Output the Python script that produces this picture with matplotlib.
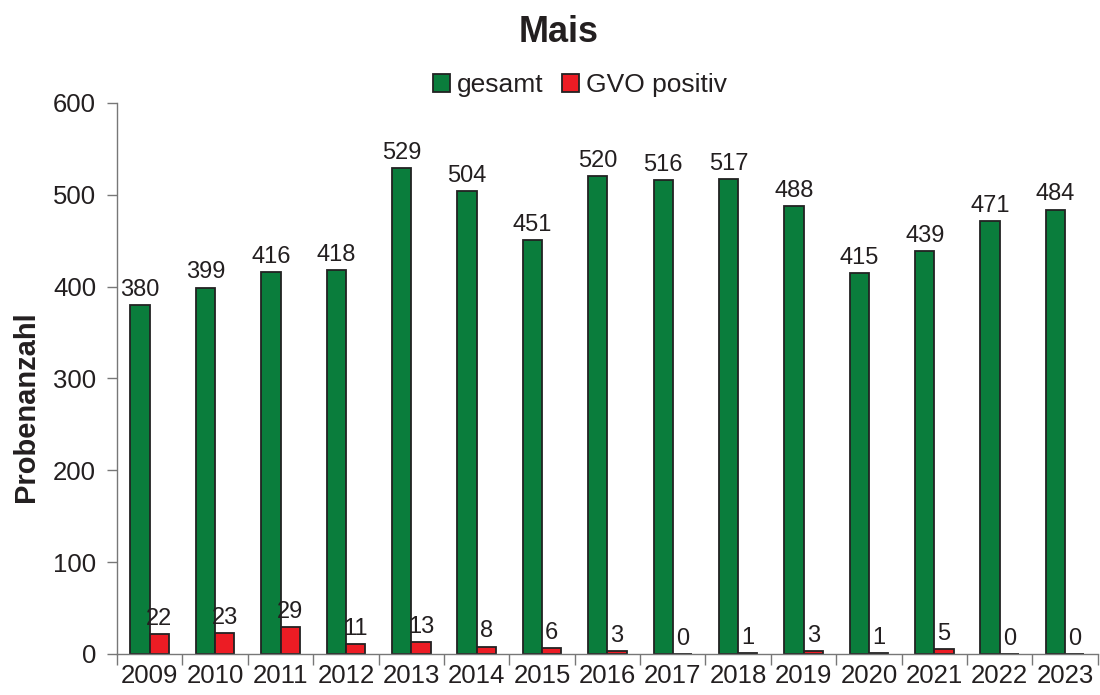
import numpy as np
import matplotlib.pyplot as plt
from matplotlib.transforms import ScaledTranslation

plt.rcParams['font.family'] = ['Liberation Sans', 'DejaVu Sans']

years = ['2009', '2010', '2011', '2012', '2013', '2014', '2015', '2016',
         '2017', '2018', '2019', '2020', '2021', '2022', '2023']
gesamt = [380, 399, 416, 418, 529, 504, 451, 520, 516, 517, 488, 415, 439, 471, 484]
gvo_positiv = [22, 23, 29, 11, 13, 8, 6, 3, 0, 1, 3, 1, 5, 0, 0]

green = '#0a7d3c'
red = '#ec1c24'
txt = '#231f20'

fig = plt.figure(figsize=(11, 6.95), dpi=100)
ax = fig.add_axes([0.1064, 0.059, 0.8916, 0.7928])

x = np.arange(len(years))
w = 0.295
b1 = ax.bar(x - w / 2, gesamt, w, color=green, edgecolor='#222222', linewidth=1.3, label='gesamt')
b2 = ax.bar(x + w / 2, gvo_positiv, w, color=red, edgecolor='#222222', linewidth=1.3, label='GVO positiv')
ax.bar_label(b1, padding=3, fontsize=17, color=txt)
lbl2 = ax.bar_label(b2, padding=3, fontsize=17, color=txt)
# labels of the small bars sit a little to the right in the original
for t in lbl2:
    t.set_transform(t.get_transform() + ScaledTranslation(4 / 100, 0, fig.dpi_scale_trans))

ax.set_xlim(-0.5, len(years) - 0.5)
ax.set_ylim(0, 600)
ax.set_yticks(range(0, 601, 100))
ax.tick_params(axis='y', labelsize=18.5, direction='out', length=7, width=1,
               color='#777777', labelcolor=txt, pad=8)
ax.set_xticks(x)
ax.set_xticklabels(years)
ax.set_xticks(np.arange(-0.5, len(years)), minor=True)
ax.tick_params(axis='x', which='major', length=0, labelsize=18.5, labelcolor=txt, pad=7)
ax.tick_params(axis='x', which='minor', direction='out', length=8, width=1, color='#777777')

for s in ['top', 'right']:
    ax.spines[s].set_visible(False)
for s in ['left', 'bottom']:
    ax.spines[s].set_color('#777777')
    ax.spines[s].set_linewidth(1)

fig.text(26 / 1100, 1 - 407 / 695, 'Probenanzahl', rotation=90, ha='center', va='center',
         fontsize=21, fontweight='bold', color=txt)

fig.text(559 / 1100, 1 - 33 / 695, 'Mais', ha='center', va='center',
         fontsize=26, fontweight='bold', color=txt)

leg = fig.legend(handles=[b1, b2], loc='center', bbox_to_anchor=(580 / 1100, 1 - 85 / 695),
                 ncol=2, frameon=False, fontsize=19, handlelength=0.65, handleheight=0.65,
                 handletextpad=0.25, columnspacing=0.7, borderaxespad=0)
for t in leg.get_texts():
    t.set_color(txt)

fig.savefig('out.png', dpi=100)
